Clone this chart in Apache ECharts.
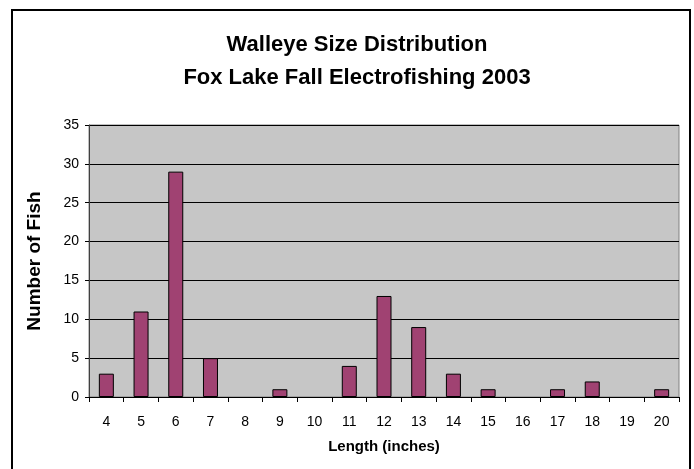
<!DOCTYPE html>
<html><head><meta charset="utf-8">
<script src="https://cdn.jsdelivr.net/npm/echarts@6/dist/echarts.min.js"></script>
<style>html,body{margin:0;padding:0;background:#fff}#c{width:694px;height:469px}</style>
</head><body><div id="c"></div>
<script>
var categories = ['4','5','6','7','8','9','10','11','12','13','14','15','16','17','18','19','20'];
var fishCounts = [3,11,29,5,0,1,0,4,13,9,3,1,0,1,2,0,1];
var yTicks = [0,5,10,15,20,25,30,35];

var chart = echarts.init(document.getElementById('c'), null, {renderer:'canvas'});
chart.setOption({
  animation:false,
  backgroundColor:'#ffffff',
  title:{
    text:'Walleye Size Distribution\nFox Lake Fall Electrofishing 2003',
    left:352, top:23, textAlign:'center',
    textStyle:{fontFamily:'Liberation Sans, Arial', fontWeight:'bold', fontSize:22, lineHeight:33, color:'#000'}
  },
  graphic:[{type:'rect', shape:{x:12,y:10,width:678,height:470}, style:{fill:'none', stroke:'#000', lineWidth:2}, z:-1}],
  grid:{left:89, top:125, width:590, height:272, show:true, backgroundColor:'#c6c6c6', borderColor:'#808080', borderWidth:1},
  xAxis:{
    type:'category', data:categories,
    name:'Length (inches)', nameLocation:'middle', nameGap:42,
    nameTextStyle:{fontFamily:'Liberation Sans, Arial', fontWeight:'bold', fontSize:15, color:'#000'},
    axisLine:{lineStyle:{color:'#000', width:1}},
    axisTick:{show:true, length:5, lineStyle:{color:'#000'}},
    axisLabel:{fontFamily:'Liberation Sans, Arial', fontSize:14, color:'#000', margin:18}
  },
  yAxis:{
    type:'value', min:yTicks[0], max:yTicks[yTicks.length-1], interval:5,
    name:'Number of Fish', nameLocation:'middle', nameGap:45,
    nameTextStyle:{fontFamily:'Liberation Sans, Arial', fontWeight:'bold', fontSize:19, color:'#000'},
    axisLine:{show:true, lineStyle:{color:'#404040', width:1}},
    axisTick:{show:true, length:4, lineStyle:{color:'#000'}},
    axisLabel:{fontFamily:'Liberation Sans, Arial', fontSize:14, color:'#000', margin:10},
    splitLine:{show:true, lineStyle:{color:'#000', width:1}}
  },
  series:[{
    type:'bar', barWidth:15,
    data: fishCounts.map(function(v){ return v === 0 ? {value:v, itemStyle:{borderWidth:0}} : v; }),
    itemStyle:{color:'#a04272', borderColor:'#000', borderWidth:1}
  }]
});
</script></body></html>
